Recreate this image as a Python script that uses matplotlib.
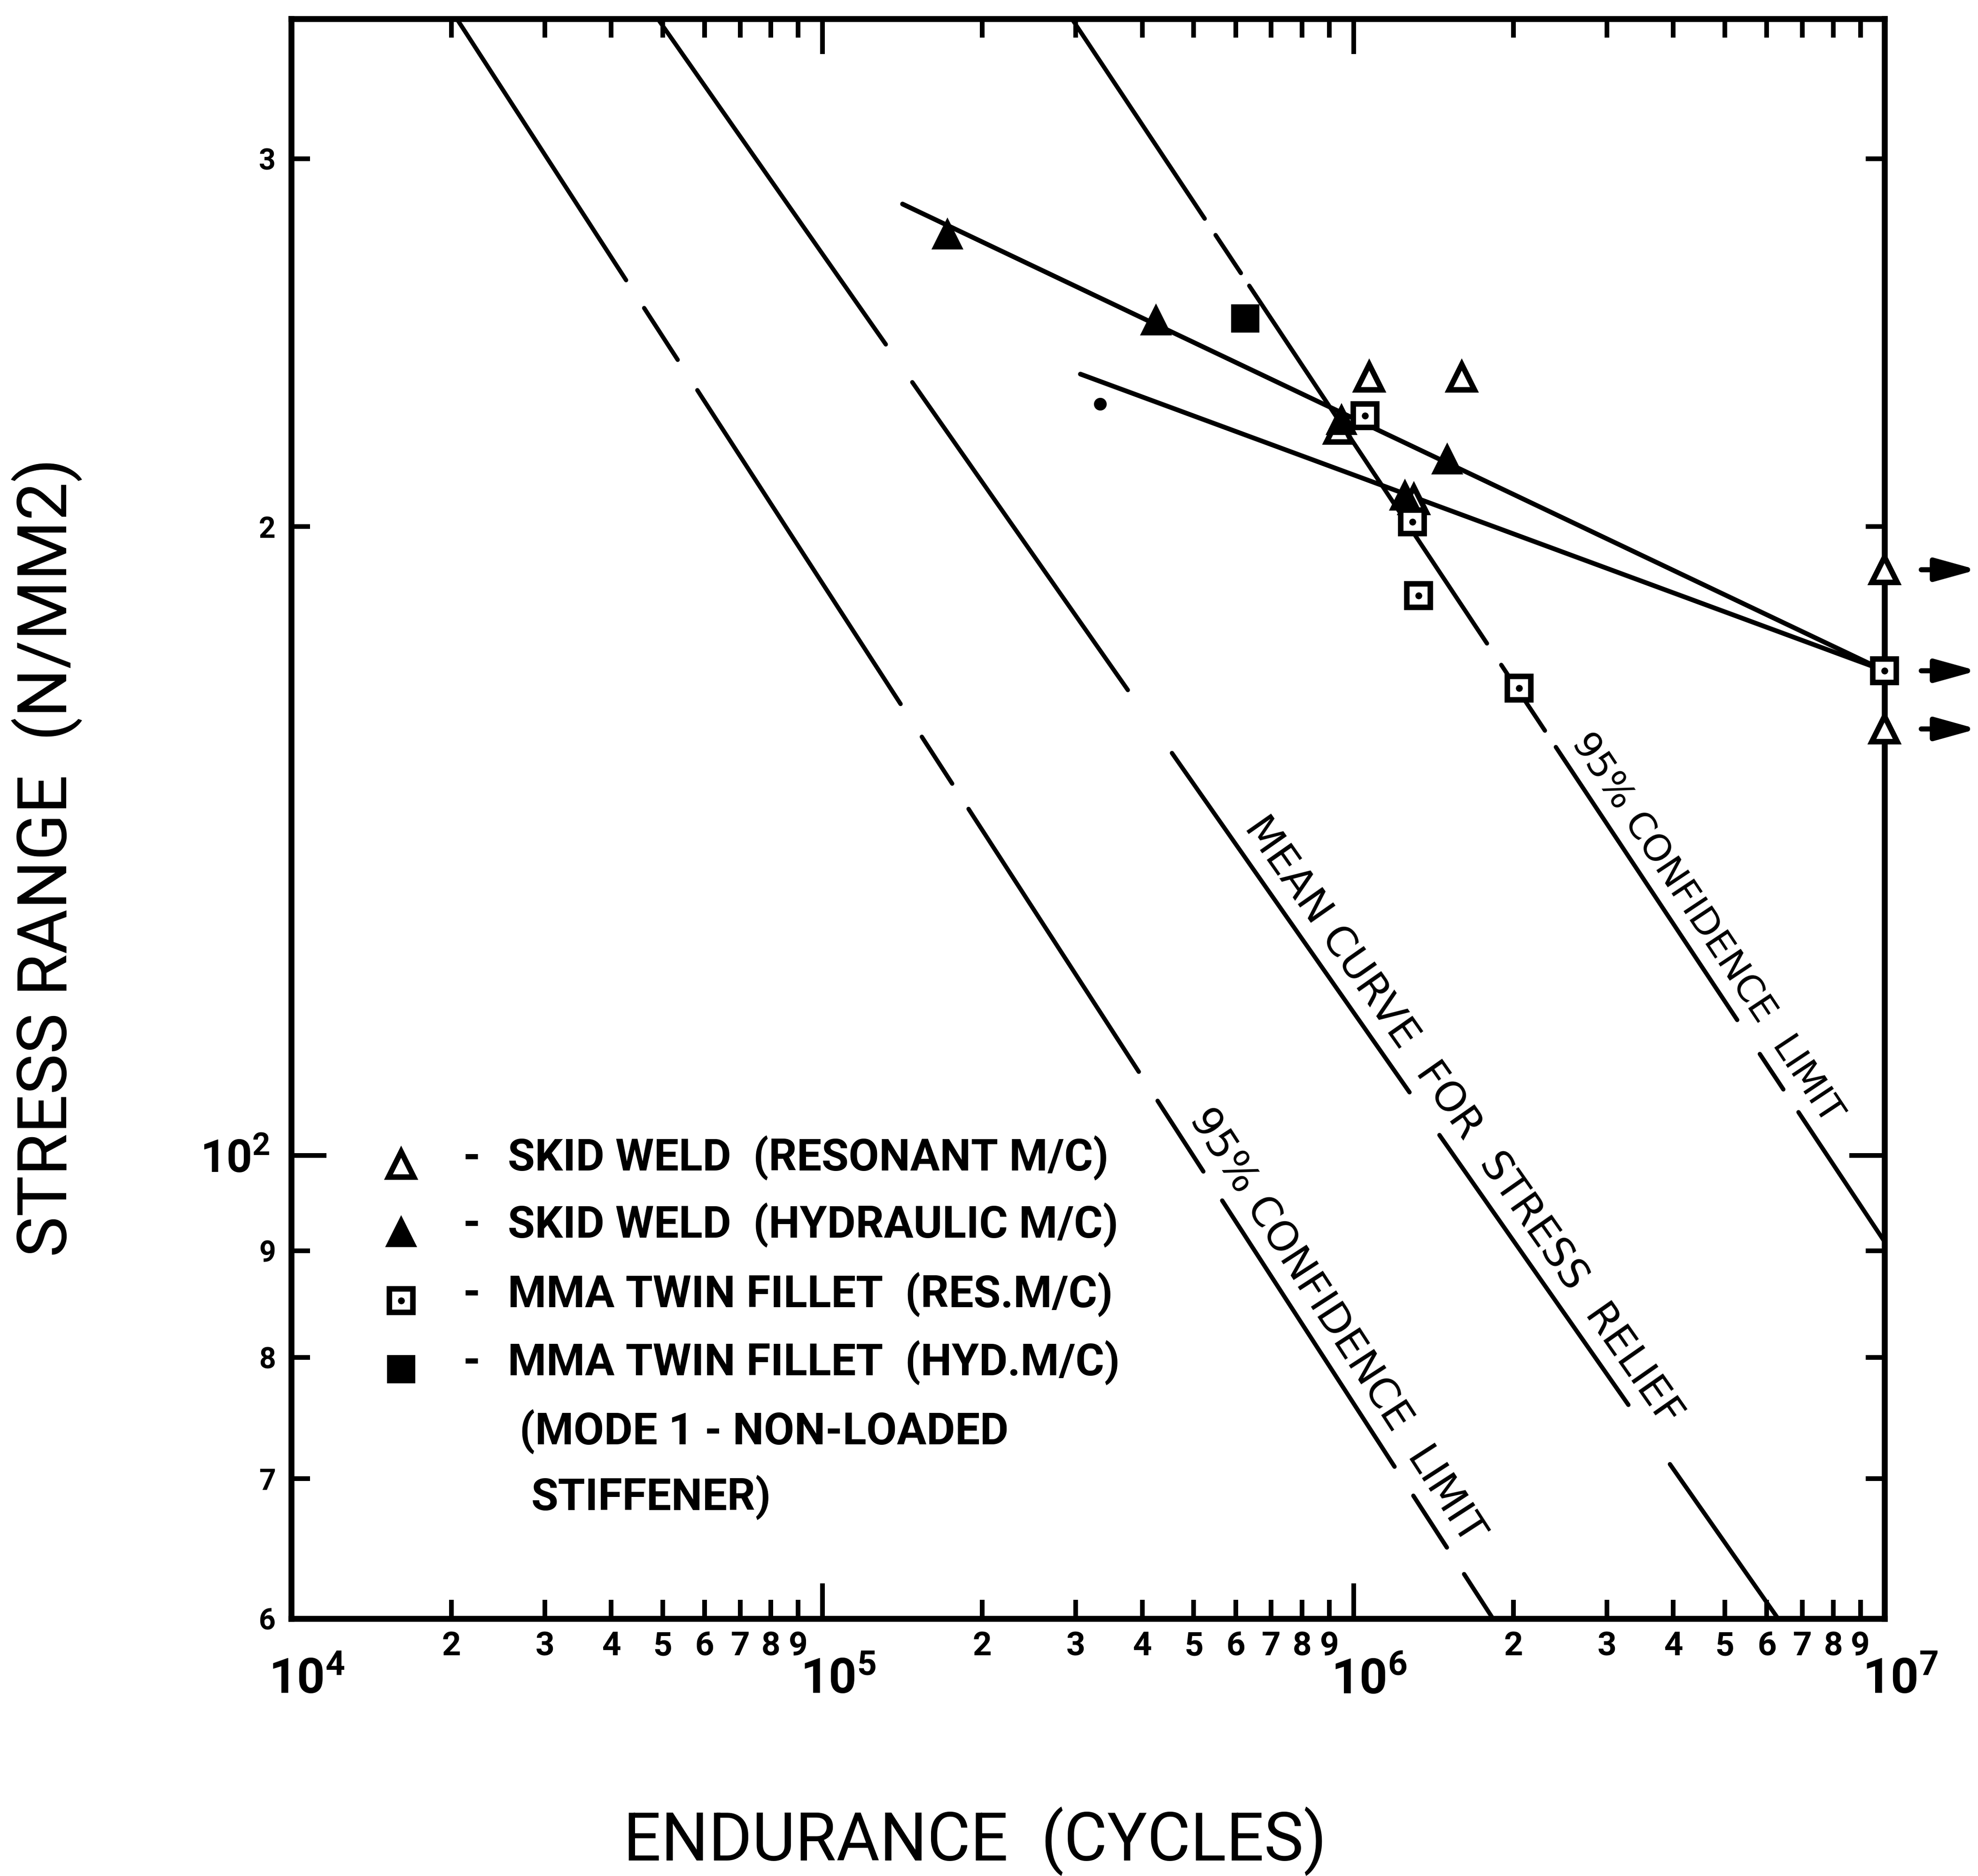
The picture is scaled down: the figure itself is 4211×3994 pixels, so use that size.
import numpy as np
import matplotlib
matplotlib.use('Agg')
import matplotlib.pyplot as plt
from matplotlib import transforms

plt.rcParams['font.family'] = ['Roboto', 'DejaVu Sans']
plt.rcParams['mathtext.fontset'] = 'custom'
plt.rcParams['mathtext.rm'] = 'Roboto:bold'
plt.rcParams['mathtext.bf'] = 'Roboto:bold'
plt.rcParams['lines.scale_dashes'] = False

# ---- test results (cycles, N/mm2) ----
res_tri_N = [9.4e5, 1.07e6, 1.30e6, 1.60e6, 1.0e7, 1.0e7]
res_tri_S = [222.6, 235.8, 206, 235.8, 190.7, 160]
hyd_tri_N = [1.72e5, 4.25e5, 9.5e5, 1.25e6, 1.50e6]
hyd_tri_S = [276, 251, 225, 207, 215.4]
res_sq_N = [1.05e6, 1.29e6, 1.325e6, 2.05e6, 1.0e7]
res_sq_S = [226, 201, 185.3, 167.4, 170.6]
hyd_sq_N = [6.25e5]
hyd_sq_S = [251.6]
stray_N = [3.33e5]
stray_S = [229]

# unbroken specimens (arrows at right)
runout_S = [190.7, 170.6, 160]

# design curves
lower95_N = [2.05e4, 1.83e6]
lower95_S = [350, 60]
mean_N = [4.9e4, 6.3e6]
mean_S = [350, 60]
upper95_N = [2.95e5, 1.0e7]
upper95_S = [350, 90.9]

# lines fitted through the test results
fit_hi_N = [1.415e5, 1.0e7]
fit_hi_S = [285.4, 170.6]
fit_lo_N = [3.06e5, 1.0e7]
fit_lo_S = [236.6, 170.6]

# legend
legend_labels = ['SKID WELD  (RESONANT M/C)',
                 'SKID WELD  (HYDRAULIC M/C)',
                 'MMA TWIN FILLET  (RES.M/C)',
                 'MMA TWIN FILLET  (HYD.M/C)']
legend_note = ['(MODE 1 - NON-LOADED', 'STIFFENER)']

# ticks
x_major = [1e4, 1e5, 1e6, 1e7]
x_major_labels = [r'$\mathbf{10^{4}}$', r'$\mathbf{10^{5}}$', r'$\mathbf{10^{6}}$', r'$\mathbf{10^{7}}$']
x_minor = [k * 10.0 ** d for d in (4, 5, 6) for k in range(2, 10)]
x_minor_labels = [str(k) for d in (4, 5, 6) for k in range(2, 10)]
y_major = [100]
y_major_labels = [r'$\mathbf{10^{2}}$']
y_minor = [60, 70, 80, 90, 200, 300]
y_minor_labels = ['6', '7', '8', '9', '2', '3']

fig = plt.figure(figsize=(4211 / 300, 3994 / 300), dpi=300)
ax = fig.add_axes([0.1473, 0.1372, 0.8055, 0.8527])
ax.set_xscale('log')
ax.set_yscale('log')
ax.set_xlim(1e4, 1e7)
ax.set_ylim(60, 350)

# design curves, broken like the original drawing
ax.plot(lower95_N, lower95_S, color='black', lw=2.2, dash_capstyle='round',
        linestyle=(0, (159, 17, 31.5, 18.5, 191, 20, 28.5, 15.4, 160, 17.7,
                       43, 17.7, 162, 17.7, 31.5, 16.2, 80)))
ax.plot(mean_N, mean_S, color='black', lw=2.2, dash_capstyle='round',
        linestyle=(0, (203, 23.6, 192, 39.3, 211.6, 26.7, 168.3, 37, 140)))
ax.plot(upper95_N, upper95_S, color='black', lw=2.2, dash_capstyle='round',
        linestyle=(0, (122.5, 10.1, 23.3, 7.8, 219.4, 13.2, 40.3, 10.1,
                       167.4, 20.9, 21.7, 14, 140)))

ax.plot(fit_hi_N, fit_hi_S, color='black', lw=2.4, solid_capstyle='round')
ax.plot(fit_lo_N, fit_lo_S, color='black', lw=2.4, solid_capstyle='round')

# points
ax.plot(res_tri_N, res_tri_S, '^', ms=13, mfc='white', mec='black', mew=2.8,
        ls='none', clip_on=False, zorder=4)
ax.plot(hyd_tri_N, hyd_tri_S, '^', ms=14, mfc='black', mec='black', mew=1.5,
        ls='none', clip_on=False, zorder=4)
ax.plot(res_sq_N, res_sq_S, 's', ms=12, mfc='white', mec='black', mew=2.8,
        ls='none', clip_on=False, zorder=4)
ax.plot(res_sq_N, res_sq_S, 'o', ms=2.5, color='black', ls='none',
        clip_on=False, zorder=5)
ax.plot(hyd_sq_N, hyd_sq_S, 's', ms=13, mfc='black', mec='black', mew=1.5,
        ls='none', zorder=4)
ax.plot(stray_N, stray_S, 'o', ms=5.5, color='black', ls='none', zorder=4)

for s in runout_S:
    ax.annotate('', xy=(1.058, s), xycoords=('axes fraction', 'data'),
                xytext=(1.023, s), textcoords=('axes fraction', 'data'),
                annotation_clip=False,
                arrowprops=dict(arrowstyle='-|>,head_length=0.9,head_width=0.25',
                                lw=2.6, color='black', mutation_scale=20,
                                shrinkA=0, shrinkB=0))


def line_label(Ns, Ss, n_at, text, size):
    x0, y0 = ax.transData.transform((Ns[0], Ss[0]))
    x1, y1 = ax.transData.transform((Ns[1], Ss[1]))
    ang = np.degrees(np.arctan2(y1 - y0, x1 - x0))
    s_at = 10 ** np.interp(np.log10(n_at), np.log10(Ns), np.log10(Ss))
    th = np.radians(ang)
    tr = transforms.offset_copy(ax.transData, fig=fig, x=-np.sin(th) * 4,
                                y=np.cos(th) * 4, units='points')
    ax.text(n_at, s_at, text, rotation=ang, rotation_mode='anchor',
            ha='center', va='bottom', transform=tr, fontsize=size,
            family='DejaVu Sans')


line_label(lower95_N, lower95_S, 8.4e5, '95% CONFIDENCE  LIMIT', 21)
line_label(mean_N, mean_S, 1.46e6, 'MEAN CURVE  FOR  STRESS  RELIEF', 21)
line_label(upper95_N, upper95_S, 4.22e6, '95% CONFIDENCE  LIMIT', 19)

# hand-made key
key_marks = [dict(marker='^', mfc='white', mew=2.8, ms=13),
             dict(marker='^', mfc='black', mew=1.5, ms=14),
             dict(marker='s', mfc='white', mew=2.8, ms=12),
             dict(marker='s', mfc='black', mew=1.5, ms=13)]
row_y = [0.2879, 0.2461, 0.2027, 0.1601]
mark_y = [0.2839, 0.2416, 0.1987, 0.1558]
for lab, st, ty, my in zip(legend_labels, key_marks, row_y, mark_y):
    ax.plot([0.0689], [my], transform=ax.transAxes, mec='black', ls='none', **st)
    ax.text(0.1132, ty, '-', transform=ax.transAxes, ha='center', va='center',
            fontsize=23, fontweight='bold')
    ax.text(0.1359, ty, lab, transform=ax.transAxes, ha='left', va='center',
            fontsize=22.5, fontweight='bold')
ax.plot([0.0689], [0.1987], 'o', ms=2.5, color='black', transform=ax.transAxes)
ax.text(0.1432, 0.1170, legend_note[0], transform=ax.transAxes, ha='left',
        va='center', fontsize=22.5, fontweight='bold')
ax.text(0.1504, 0.0757, legend_note[1], transform=ax.transAxes, ha='left',
        va='center', fontsize=22.5, fontweight='bold')

# axes look
ax.set_xticks(x_major, x_major_labels)
ax.set_xticks(x_minor, x_minor_labels, minor=True, fontweight='bold')
ax.set_yticks(y_major, y_major_labels)
ax.set_yticks(y_minor, y_minor_labels, minor=True, fontweight='bold')
ax.tick_params(which='both', direction='in', top=True, right=True, width=2.4,
               color='black')
ax.tick_params(which='major', length=18)
ax.tick_params(which='minor', length=9.5)
ax.tick_params(axis='x', which='major', labelsize=25, pad=19.5)
ax.tick_params(axis='x', which='minor', labelsize=17, pad=6)
ax.tick_params(axis='y', which='major', labelsize=23, pad=11)
ax.tick_params(axis='y', which='minor', labelsize=15, pad=8)
# centre the "10" of each decade label on its tick
shift = transforms.ScaledTranslation(8 / 72, 0, fig.dpi_scale_trans)
for lab in ax.get_xticklabels():
    lab.set_transform(lab.get_transform() + shift)
for sp in ax.spines.values():
    sp.set_linewidth(3.0)

fig.text(0.0239, 0.543, 'STRESS RANGE  (N/MM2)', rotation=90, ha='center',
         va='center', fontsize=35)
fig.text(0.493, 0.0185, 'ENDURANCE  (CYCLES)', ha='center', va='center',
         fontsize=34)

fig.savefig('out.png', dpi=300)
